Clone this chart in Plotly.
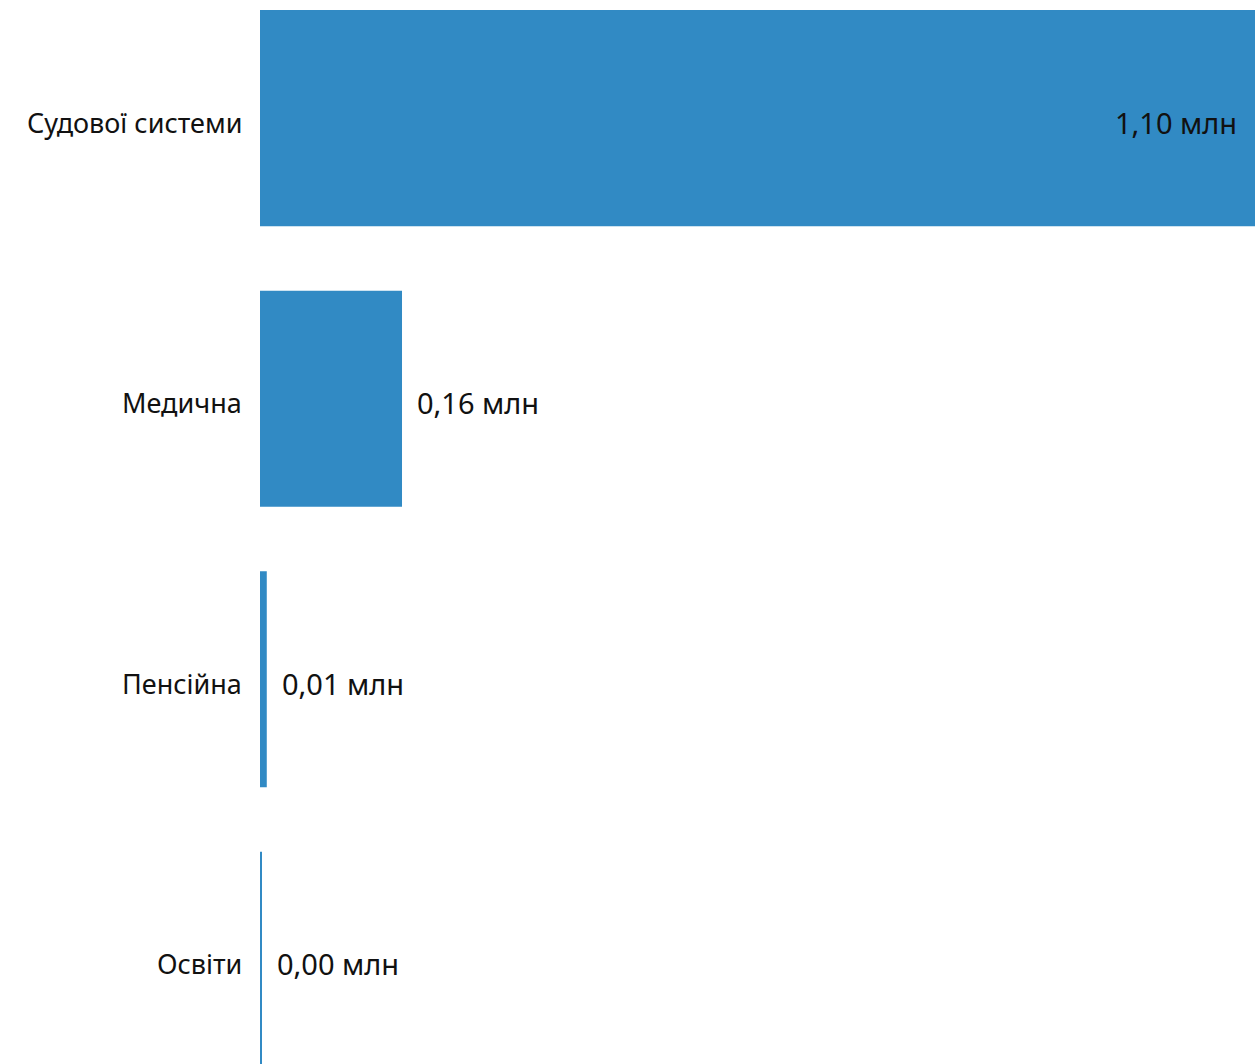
import plotly.graph_objects as go

# Data
categories = ["Судової системи", "Медична", "Пенсійна", "Освіти"]
values_mln = [1.10, 0.157, 0.0075, 0.002]
labels = ["1,10 млн", "0,16 млн", "0,01 млн", "0,00 млн"]

BAR_COLOR = "#318ac4"
FONT = "Noto Sans, Open Sans, sans-serif"
TEXT_COLOR = "#111111"

fig = go.Figure()

fig.add_trace(go.Bar(
    x=values_mln,
    y=categories,
    orientation="h",
    marker=dict(color=BAR_COLOR, line=dict(width=0)),
    width=0.77,
    hoverinfo="skip",
))

annotations = []
# category labels (as annotations so they can sit a bit lower, like the original)
for cat in categories:
    annotations.append(dict(
        x=0, y=cat, xref="paper", yref="y",
        text=cat, showarrow=False,
        xanchor="right", xshift=-16, yshift=-4,
        font=dict(family=FONT, size=27, color=TEXT_COLOR),
    ))

# value labels: inside the long bar, outside the short ones
for cat, val, lab in zip(categories, values_mln, labels):
    inside = val > 0.5
    annotations.append(dict(
        x=val, y=cat, xref="x", yref="y",
        text=lab, showarrow=False,
        xanchor="right" if inside else "left",
        xshift=-16 if inside else 13,
        yshift=-4,
        font=dict(family=FONT, size=29, color=TEXT_COLOR),
    ))

fig.update_layout(
    width=1256,
    height=1064,
    margin=dict(l=260, r=1, t=0, b=0),
    paper_bgcolor="white",
    plot_bgcolor="white",
    showlegend=False,
    annotations=annotations,
    font=dict(family=FONT, size=27, color=TEXT_COLOR),
    xaxis=dict(
        range=[0, 1.10],
        visible=False,
        showgrid=False,
        zeroline=False,
        fixedrange=True,
    ),
    yaxis=dict(
        type="category",
        categoryorder="array",
        categoryarray=categories,
        range=[3.371, -0.421],
        showgrid=False,
        zeroline=False,
        showline=False,
        ticks="",
        showticklabels=False,
        fixedrange=True,
    ),
)

# drop the default page margin so the figure fills the window exactly
fig.write_html(
    "out.html",
    config={"displayModeBar": False},
    post_script="document.body.style.margin='0';",
)
